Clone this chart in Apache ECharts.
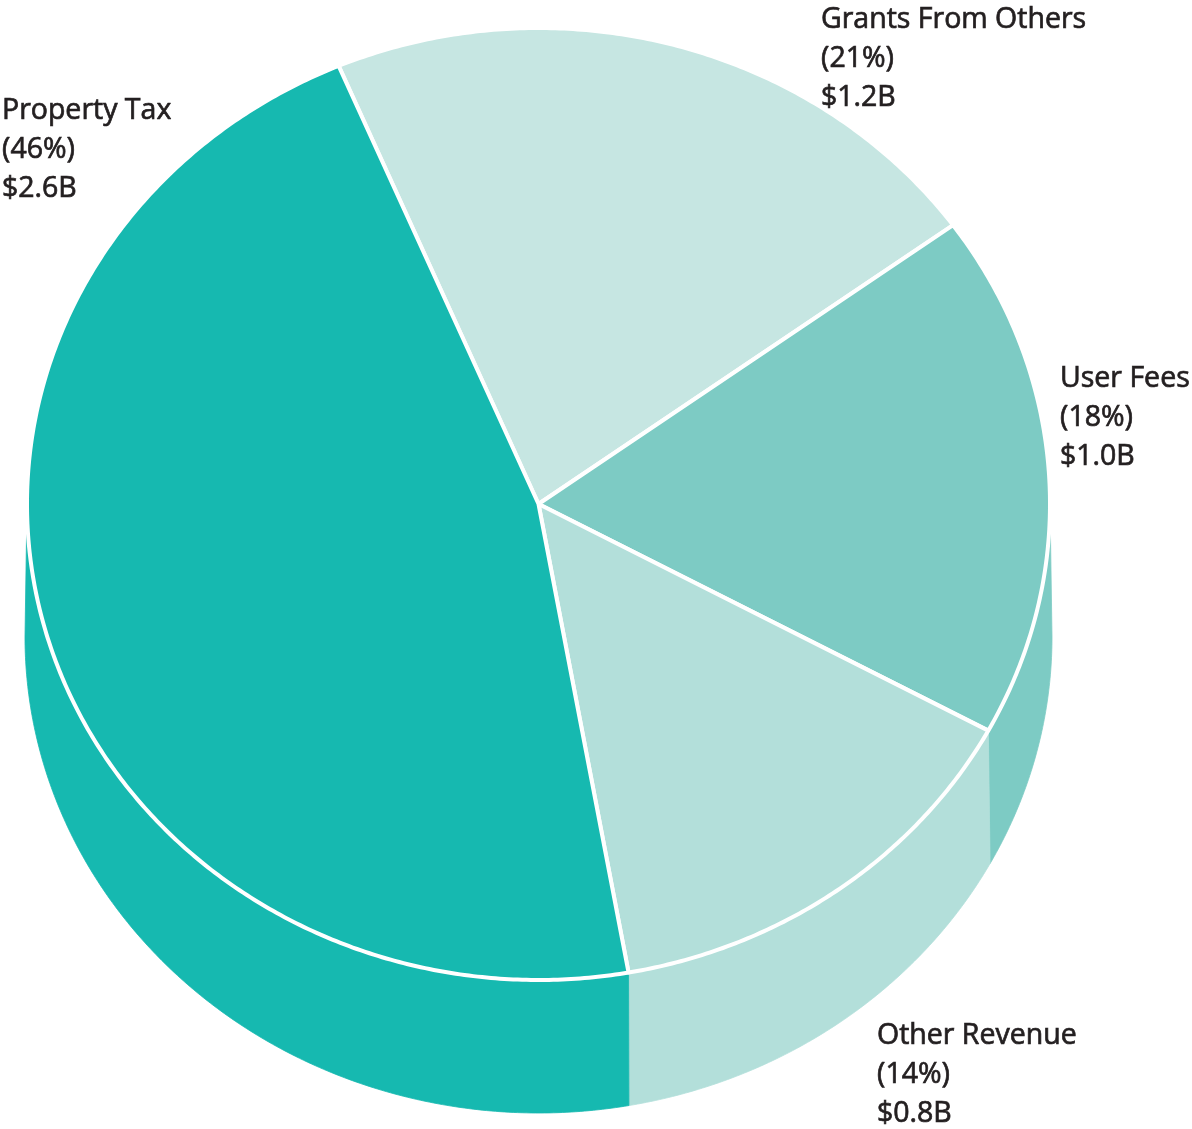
<!DOCTYPE html>
<html>
<head>
<meta charset="utf-8">
<script src="https://cdn.jsdelivr.net/npm/echarts@6/dist/echarts.min.js"></script>
<style>
  html, body { margin: 0; padding: 0; background: #ffffff; }
  #chart { width: 1192px; height: 1129px; }
</style>
</head>
<body>
<div id="chart"></div>
<script>
// Revenue sources (billions of dollars), listed in clockwise drawing order
const categories = ['Grants From Others', 'User Fees', 'Other Revenue', 'Property Tax'];
const revenue = [1.2, 1.0, 0.8, 2.6];
const sliceColors = ['#C6E6E2', '#7DCBC4', '#B3DFDA', '#16B9B0'];

// Geometry of the tilted disc, in pixels
const disc = { cx: 538.5, cy: 504, rx: 511.5, ry: 476, depth: 133, startDeg: -113 };
// Top-left corner of each label block, same order as categories
const labelAnchors = [[821, 0.5], [1060, 359.5], [877, 1016.5], [2, 91.5]];
const labelFont = { size: 28.5, lineHeight: 39, family: '"Open Sans", "Noto Sans", sans-serif', color: '#231F20' };

const total = revenue.reduce((a, b) => a + b, 0);

function sliceAngles(i) {
  let before = 0;
  for (let k = 0; k < i; k++) before += revenue[k];
  const s = disc.startDeg * Math.PI / 180;
  return [s + before / total * 2 * Math.PI, s + (before + revenue[i]) / total * 2 * Math.PI];
}

function rimPoint(t, dy, grow) {
  return [disc.cx + (disc.rx + grow) * Math.cos(t), disc.cy + dy + disc.ry * Math.sin(t)];
}

function arcPoints(a0, a1, dy, grow) {
  const n = Math.max(2, Math.ceil(Math.abs(a1 - a0) / (Math.PI / 360)));
  const pts = [];
  for (let j = 0; j <= n; j++) pts.push(rimPoint(a0 + (a1 - a0) * j / n, dy, grow || 0));
  return pts;
}

// Front-facing wall of a slice: the part of its rim in the lower half of the ellipse
function renderWall(params, api) {
  const i = params.dataIndex;
  const [a0, a1] = sliceAngles(i);
  const children = [];
  for (let k = -1; k <= 1; k++) {
    const lo = Math.max(a0, 2 * Math.PI * k);
    const hi = Math.min(a1, 2 * Math.PI * k + Math.PI);
    if (hi <= lo) continue;
    const pts = arcPoints(lo, hi, 0, 0).concat(arcPoints(hi, lo, disc.depth, 2));
    children.push({
      type: 'polygon',
      shape: { points: pts },
      style: { fill: sliceColors[i], stroke: sliceColors[i], lineWidth: 0.8 }
    });
  }
  return { type: 'group', children: children };
}

// Top face of a slice plus its label
function renderTop(params, api) {
  const i = params.dataIndex;
  const [a0, a1] = sliceAngles(i);
  const pts = [[disc.cx, disc.cy]].concat(arcPoints(a0, a1, 0, 0));
  const value = api.value(1);
  const pct = Math.round(value / total * 100);
  return {
    type: 'group',
    children: [
      {
        type: 'polygon',
        shape: { points: pts },
        style: { fill: sliceColors[i], stroke: '#ffffff', lineWidth: 4, lineJoin: 'round' }
      },
      {
        type: 'text',
        x: labelAnchors[i][0],
        y: labelAnchors[i][1],
        z2: 10,
        style: {
          text: categories[i] + '\n(' + pct + '%)\n$' + value.toFixed(1) + 'B',
          fill: labelFont.color,
          stroke: labelFont.color,
          lineWidth: 0.7,
          fontSize: labelFont.size,
          fontFamily: labelFont.family,
          lineHeight: labelFont.lineHeight,
          align: 'left',
          verticalAlign: 'top'
        }
      }
    ]
  };
}

const seriesData = revenue.map((v, i) => ({ name: categories[i], value: [i, v] }));

const chart = echarts.init(document.getElementById('chart'), null, { renderer: 'canvas' });
chart.setOption({
  backgroundColor: '#ffffff',
  animation: false,
  series: [
    { type: 'custom', coordinateSystem: 'none', silent: true, z: 1, renderItem: renderWall, data: seriesData },
    { type: 'custom', coordinateSystem: 'none', silent: true, z: 2, renderItem: renderTop, data: seriesData }
  ]
});
</script>
</body>
</html>
